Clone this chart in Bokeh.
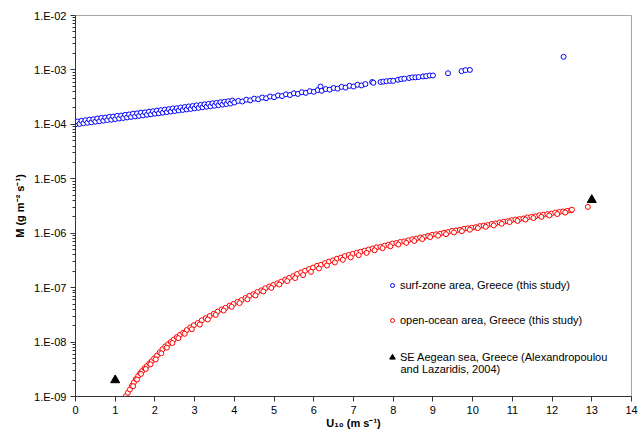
import numpy as np
from bokeh.plotting import figure
from bokeh.models import (Range1d, FixedTicker, CustomJSTickFormatter, Legend,
                          LegendItem, Label)
from bokeh.embed import file_html
from bokeh.resources import INLINE

# ---------------- data ----------------
surf_u = [0.00, 0.05, 0.10, 0.15, 0.20, 0.25, 0.30, 0.35, 0.40, 0.45, 0.50, 0.55, 0.60, 0.65,
          0.70, 0.75, 0.80, 0.85, 0.90, 0.95, 1.00, 1.05, 1.10, 1.15, 1.20, 1.25, 1.30, 1.35,
          1.40, 1.45, 1.50, 1.55, 1.60, 1.65, 1.70, 1.75, 1.80, 1.85, 1.90, 1.95, 2.00, 2.05,
          2.10, 2.15, 2.20, 2.25, 2.30, 2.35, 2.40, 2.45, 2.50, 2.55, 2.60, 2.65, 2.70, 2.75,
          2.80, 2.85, 2.90, 2.95, 3.00, 3.05, 3.10, 3.15, 3.20, 3.25, 3.30, 3.35, 3.40, 3.45,
          3.50, 3.55, 3.60, 3.65, 3.70, 3.75, 3.80, 3.85, 3.90, 3.95,
          4.00, 4.10, 4.20, 4.30, 4.40, 4.50, 4.60, 4.70, 4.80, 4.90, 5.00, 5.10, 5.20, 5.30,
          5.40, 5.50, 5.60, 5.70, 5.80, 5.90, 6.00, 6.10, 6.17, 6.20, 6.30, 6.40, 6.50, 6.60,
          6.70, 6.80, 6.90, 7.00, 7.10, 7.20, 7.30,
          7.47, 7.50, 7.68, 7.75, 7.83, 7.92, 8.00, 8.12, 8.20, 8.28, 8.40, 8.48, 8.56, 8.64,
          8.75, 8.83, 8.92, 9.00, 9.38, 9.72, 9.82, 9.93, 12.29]
surf_m = [1.00e-4, 1.13e-4, 1.02e-4, 1.16e-4, 1.05e-4, 1.19e-4, 1.07e-4, 1.22e-4, 1.09e-4, 1.24e-4,
          1.12e-4, 1.28e-4, 1.14e-4, 1.31e-4, 1.17e-4, 1.33e-4, 1.20e-4, 1.37e-4, 1.22e-4, 1.39e-4,
          1.25e-4, 1.43e-4, 1.28e-4, 1.45e-4, 1.31e-4, 1.50e-4, 1.34e-4, 1.52e-4, 1.37e-4, 1.57e-4,
          1.40e-4, 1.59e-4, 1.43e-4, 1.64e-4, 1.46e-4, 1.66e-4, 1.50e-4, 1.71e-4, 1.53e-4, 1.74e-4,
          1.57e-4, 1.79e-4, 1.60e-4, 1.82e-4, 1.64e-4, 1.87e-4, 1.68e-4, 1.90e-4, 1.72e-4, 1.96e-4,
          1.76e-4, 1.98e-4, 1.80e-4, 2.04e-4, 1.84e-4, 2.08e-4, 1.88e-4, 2.13e-4, 1.92e-4, 2.17e-4,
          1.97e-4, 2.23e-4, 2.01e-4, 2.27e-4, 2.06e-4, 2.33e-4, 2.11e-4, 2.38e-4, 2.15e-4, 2.44e-4,
          2.20e-4, 2.48e-4, 2.25e-4, 2.55e-4, 2.31e-4, 2.60e-4, 2.36e-4, 2.66e-4, 2.41e-4, 2.73e-4,
          2.52e-4, 2.70e-4, 2.63e-4, 2.84e-4, 2.76e-4, 2.97e-4, 2.89e-4, 3.11e-4, 3.02e-4, 3.25e-4,
          3.16e-4, 3.40e-4, 3.31e-4, 3.56e-4, 3.46e-4, 3.72e-4, 3.62e-4, 3.89e-4, 3.79e-4, 4.07e-4,
          3.96e-4, 4.26e-4, 4.94e-4, 4.14e-4, 4.45e-4, 4.34e-4, 4.66e-4, 4.53e-4, 4.88e-4, 4.74e-4,
          5.10e-4, 4.96e-4, 5.34e-4, 5.19e-4, 5.50e-4,
          6.0e-4, 5.8e-4, 6.0e-4, 6.1e-4, 6.2e-4, 6.3e-4, 6.3e-4, 6.6e-4, 6.8e-4, 6.9e-4,
          7.1e-4, 7.3e-4, 7.3e-4, 7.4e-4, 7.6e-4, 7.7e-4, 7.9e-4, 7.9e-4, 8.7e-4, 9.5e-4,
          9.9e-4, 1.0e-3, 1.74e-3]

ocean_u = [1.27, 1.32, 1.37, 1.42, 1.47, 1.52, 1.58, 1.63, 1.68, 1.74, 1.80, 1.86, 1.92, 1.98,
           2.05, 2.12, 2.19, 2.26, 2.33, 2.40, 2.47, 2.55, 2.63, 2.71, 2.80, 2.89, 2.98, 3.08,
           3.18, 3.28, 3.38, 3.48, 3.58, 3.68, 3.78, 3.88, 3.98, 4.08, 4.18, 4.28, 4.38, 4.48,
           4.58, 4.68, 4.78, 4.88, 4.98, 5.08, 5.18, 5.28, 5.38, 5.48, 5.58, 5.68, 5.78, 5.88,
           5.98, 6.08, 6.18, 6.28, 6.38, 6.48, 6.58, 6.68, 6.78, 6.88, 6.98, 7.08, 7.18, 7.28,
           7.38, 7.48, 7.58, 7.68, 7.78, 7.88, 7.98, 8.08, 8.18, 8.28, 8.38, 8.48, 8.58, 8.68,
           8.78, 8.88, 8.98, 9.08, 9.18, 9.28, 9.38, 9.48, 9.58, 9.68, 9.78, 9.88, 9.98, 10.08,
           10.18, 10.28, 10.38, 10.48, 10.58, 10.68, 10.78, 10.88, 10.98, 11.08, 11.18, 11.28,
           11.38, 11.48, 11.58, 11.68, 11.78, 11.88, 11.98, 12.08, 12.18, 12.28, 12.38, 12.48,
           12.90,
           1.45, 1.55, 1.65, 1.77, 1.89, 2.02, 2.16, 2.30, 2.44, 2.59, 2.75, 2.93, 3.13, 3.33,
           3.53, 3.73, 3.93, 4.13, 4.33, 4.53, 4.73, 4.93, 5.13, 5.33, 5.53, 5.73, 5.93, 6.13,
           6.33, 6.53, 6.73, 6.93, 7.13, 7.33, 7.53, 7.73, 7.93, 8.13, 8.33, 8.53, 8.73, 8.93,
           9.13, 9.33, 9.53, 9.73, 9.93, 10.13, 10.33, 10.53, 10.73, 10.93, 11.13, 11.33, 11.53,
           11.73, 11.93, 12.13, 12.33, 12.50]
ocean_m = [1.02e-9, 1.17e-9, 1.35e-9, 1.58e-9, 1.82e-9, 2.09e-9, 2.40e-9, 2.69e-9, 2.95e-9, 3.31e-9,
           3.63e-9, 4.07e-9, 4.47e-9, 5.01e-9, 5.62e-9, 6.46e-9, 7.41e-9, 8.32e-9, 9.12e-9, 1.00e-8,
           1.10e-8, 1.23e-8, 1.35e-8, 1.48e-8, 1.66e-8, 1.86e-8, 2.04e-8, 2.24e-8, 2.51e-8, 2.75e-8,
           3.02e-8, 3.31e-8, 3.63e-8, 3.98e-8, 4.27e-8, 4.68e-8, 5.01e-8, 5.50e-8, 5.89e-8, 6.46e-8,
           7.08e-8, 7.59e-8, 8.32e-8, 8.91e-8, 9.77e-8, 1.05e-7, 1.12e-7, 1.20e-7, 1.29e-7, 1.41e-7,
           1.51e-7, 1.62e-7, 1.78e-7, 1.91e-7, 2.04e-7, 2.19e-7, 2.34e-7, 2.51e-7, 2.63e-7, 2.82e-7,
           3.02e-7, 3.16e-7, 3.39e-7, 3.55e-7, 3.80e-7, 3.98e-7, 4.17e-7, 4.37e-7, 4.57e-7, 4.79e-7,
           5.01e-7, 5.25e-7, 5.50e-7, 5.62e-7, 5.89e-7, 6.17e-7, 6.46e-7, 6.61e-7, 6.92e-7, 7.08e-7,
           7.41e-7, 7.76e-7, 7.94e-7, 8.32e-7, 8.51e-7, 8.91e-7, 9.33e-7, 9.55e-7, 9.77e-7, 1.02e-6,
           1.05e-6, 1.10e-6, 1.12e-6, 1.15e-6, 1.20e-6, 1.23e-6, 1.26e-6, 1.29e-6, 1.35e-6, 1.38e-6,
           1.41e-6, 1.48e-6, 1.51e-6, 1.58e-6, 1.62e-6, 1.66e-6, 1.74e-6, 1.78e-6, 1.82e-6, 1.86e-6,
           1.95e-6, 2.00e-6, 2.04e-6, 2.14e-6, 2.19e-6, 2.24e-6, 2.29e-6, 2.40e-6, 2.45e-6, 2.51e-6,
           2.57e-6, 2.63e-6, 3.05e-6,
           1.55e-9, 2.05e-9, 2.60e-9, 3.20e-9, 3.90e-9, 4.80e-9, 6.20e-9, 7.90e-9, 9.60e-9, 1.18e-8,
           1.42e-8, 1.72e-8, 2.10e-8, 2.60e-8, 3.15e-8, 3.80e-8, 4.45e-8, 5.20e-8, 6.10e-8, 7.20e-8,
           8.50e-8, 9.90e-8, 1.14e-7, 1.32e-7, 1.50e-7, 1.70e-7, 1.95e-7, 2.25e-7, 2.55e-7, 2.90e-7,
           3.25e-7, 3.60e-7, 3.95e-7, 4.35e-7, 4.85e-7, 5.30e-7, 5.75e-7, 6.20e-7, 6.65e-7, 7.20e-7,
           7.80e-7, 8.50e-7, 9.00e-7, 9.60e-7, 1.03e-6, 1.09e-6, 1.16e-6, 1.24e-6, 1.31e-6, 1.39e-6,
           1.49e-6, 1.60e-6, 1.68e-6, 1.78e-6, 1.90e-6, 2.00e-6, 2.12e-6, 2.25e-6, 2.40e-6, 2.70e-6]

aegean_u = [1.0, 13.0]
aegean_m = [2.0e-9, 4.1e-6]

x_ticks = list(range(0, 15))
y_ticks = [1e-9, 1e-8, 1e-7, 1e-6, 1e-5, 1e-4, 1e-3, 1e-2]
y_tick_labels = ["1.E-09", "1.E-08", "1.E-07", "1.E-06", "1.E-05", "1.E-04", "1.E-03", "1.E-02"]

labels = ["surf-zone area, Greece (this study)",
          "open-ocean area, Greece (this study)",
          "SE Aegean sea, Greece (Alexandropoulou",
          "and Lazaridis, 2004)"]

FONT = "Liberation Sans"

# ---------------- figure ----------------
p = figure(width=638, height=431, y_axis_type="log",
           x_range=Range1d(0, 14), y_range=Range1d(1e-9, 1e-2),
           output_backend="svg", toolbar_location=None,
           min_border_left=75, min_border_right=7, min_border_top=15, min_border_bottom=34)
p.grid.visible = False
p.background_fill_color = "white"
p.border_fill_color = "white"
p.outline_line_color = "#a6a6a6"
p.outline_line_width = 1

r_surf = p.scatter(surf_u, surf_m, marker="circle", size=5, line_color="#0000ff",
                   fill_color="white", line_width=1)
r_ocean = p.scatter(ocean_u, ocean_m, marker="circle", size=5, line_color="#ff0000",
                    fill_color="white", line_width=1)
r_aeg = p.scatter(aegean_u, aegean_m, marker="triangle", size=9, line_color="black",
                  fill_color="black")

# axes
minor = [m * d for d in y_ticks[:-1] for m in range(2, 10)]
p.yaxis.ticker = FixedTicker(ticks=y_ticks, minor_ticks=minor)
p.yaxis.formatter = CustomJSTickFormatter(args=dict(yt=y_ticks, yl=y_tick_labels), code="""
    let best = 0;
    for (let i = 0; i < yt.length; i++) {
        if (Math.abs(Math.log10(yt[i]) - Math.log10(tick)) < Math.abs(Math.log10(yt[best]) - Math.log10(tick))) best = i;
    }
    return yl[best];
""")
p.xaxis.ticker = FixedTicker(ticks=x_ticks, minor_ticks=[])

for ax in (p.xaxis[0], p.yaxis[0]):
    ax.axis_line_color = "#333333"
    ax.major_tick_line_color = "#333333"
    ax.minor_tick_line_color = "#333333"
    ax.major_tick_out = 5
    ax.major_tick_in = 0
    ax.minor_tick_out = 3
    ax.minor_tick_in = 0
    ax.major_label_text_font = FONT
    ax.major_label_text_font_size = "11px"
    ax.major_label_text_color = "black"
    ax.axis_label_text_font = FONT
    ax.axis_label_text_font_size = "11px"
    ax.axis_label_text_font_style = "bold"
    ax.axis_label_text_color = "black"

p.xaxis.axis_label = "U\u2081\u2080 (m s\u207b\u00b9)"
p.yaxis.axis_label = "M (g m\u207b\u00b2 s\u207b\u00b9)"
p.xaxis.major_label_standoff = 4
p.xaxis.axis_label_standoff = 0
p.yaxis.major_label_standoff = 4
p.yaxis.axis_label_standoff = 5

# legends
leg1 = Legend(items=[LegendItem(label=labels[0], renderers=[r_surf]),
                     LegendItem(label=labels[1], renderers=[r_ocean])],
              location=(312, 70), glyph_width=10, glyph_height=12, label_height=12,
              spacing=23, label_standoff=3, padding=0, margin=0,
              background_fill_alpha=0, border_line_alpha=0,
              label_text_font=FONT, label_text_font_size="11px", label_text_color="black")
leg2 = Legend(items=[LegendItem(label=labels[2], renderers=[r_aeg])],
              location=(310, 31), glyph_width=14, glyph_height=16, label_height=16,
              label_standoff=1, padding=0, margin=0,
              background_fill_alpha=0, border_line_alpha=0,
              label_text_font=FONT, label_text_font_size="11px", label_text_color="black")
p.add_layout(leg1)
p.add_layout(leg2)

p.add_layout(Label(x=325, y=28, x_units="screen", y_units="screen", text=labels[3],
                   text_font=FONT, text_font_size="11px", text_font_style="normal",
                   text_baseline="middle", text_color="black"))

open("out.html", "w").write(file_html(p, INLINE))
